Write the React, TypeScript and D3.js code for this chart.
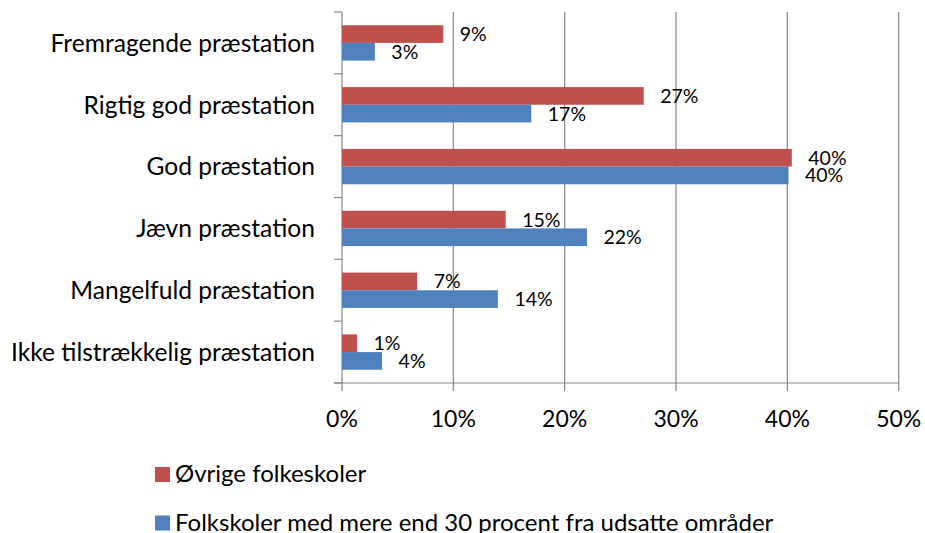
import React from "react";
import * as d3 from "d3";

const categories = [
  "Fremragende præstation",
  "Rigtig god præstation",
  "God præstation",
  "Jævn præstation",
  "Mangelfuld præstation",
  "Ikke tilstrækkelig præstation",
];
const seriesNames = [
  "Øvrige folkeskoler",
  "Folkskoler med mere end 30 procent fra udsatte områder",
];
const ovrige = [0.091, 0.271, 0.404, 0.147, 0.0675, 0.0135];
const udsatte = [0.0295, 0.17, 0.401, 0.22, 0.14, 0.036];
const xTicks = [0, 0.1, 0.2, 0.3, 0.4, 0.5];
const colors = ["#C0504D", "#4F81BD"];

const FONT = "Lato, 'Open Sans', sans-serif";
const W = 925;
const H = 533;

export default function App() {
  const x = d3.scaleLinear().domain([0, 0.5]).range([342, 898.7]);
  const y = d3.scaleBand<string>().domain(categories).range([12, 383]).padding(0);
  const sub = d3
    .scaleBand<string>()
    .domain(seriesNames)
    .range([0, y.bandwidth()])
    .paddingInner(0)
    .paddingOuter(0.75);
  const fmt = d3.format(".0%");
  const series = [ovrige, udsatte];
  const grid = "#878787";
  const [y0, y1] = y.range();

  return (
    <svg
      width={W}
      height={H}
      style={{ position: "absolute", left: 0, top: 0, background: "#fff" }}
      fontFamily={FONT}
    >
      <rect x={0} y={0} width={W} height={H} fill="#fff" />
      {/* gridlines */}
      {xTicks.slice(1).map((t) => (
        <line key={"g" + t} x1={x(t)} x2={x(t)} y1={y0} y2={y1 + 8} stroke={grid} strokeWidth={1.2} />
      ))}
      {/* y axis */}
      <line x1={x(0)} x2={x(0)} y1={y0} y2={y1 + 8} stroke={grid} strokeWidth={1.2} />
      {[...categories.map((c) => y(c) as number), y1].map((v, i) => (
        <line key={"yt" + i} x1={x(0) - 8} x2={x(0)} y1={v} y2={v} stroke={grid} strokeWidth={1.2} />
      ))}
      {/* x axis */}
      <line x1={x(0) - 8} x2={x(0.5)} y1={y1} y2={y1} stroke={grid} strokeWidth={1.2} />
      {xTicks.map((t) => (
        <text key={"xl" + t} x={x(t)} y={427} textAnchor="middle" fontSize={23} fill="#000">
          {fmt(t)}
        </text>
      ))}
      {categories.map((c) => (
        <text
          key={"cl" + c}
          x={315}
          y={(y(c) as number) + y.bandwidth() / 2}
          dy="0.36em"
          textAnchor="end"
          fontSize={24.6}
          fill="#000"
        >
          {c}
        </text>
      ))}
      {/* bars */}
      {series.map((vals, si) =>
        categories.map((c, ci) => {
          const by = (y(c) as number) + (sub(seriesNames[si]) as number);
          return (
            <g key={"b" + si + "-" + ci}>
              <rect
                x={x(0)}
                y={by}
                width={x(vals[ci]) - x(0)}
                height={sub.bandwidth()}
                fill={colors[si]}
              />
              <text
                x={x(vals[ci]) + 16.5}
                y={by + sub.bandwidth() / 2}
                dy="0.36em"
                fontSize={19.5}
                fill="#000"
              >
                {fmt(vals[ci])}
              </text>
            </g>
          );
        })
      )}
      {/* legend */}
      {seriesNames.map((s, i) => (
        <g key={"lg" + i}>
          <rect x={155} y={467 + i * 48.5} width={15} height={15} fill={colors[i]} />
          <text x={175} y={482 + i * 48.5} fontSize={24} fill="#000">
            {s}
          </text>
        </g>
      ))}
    </svg>
  );
}
